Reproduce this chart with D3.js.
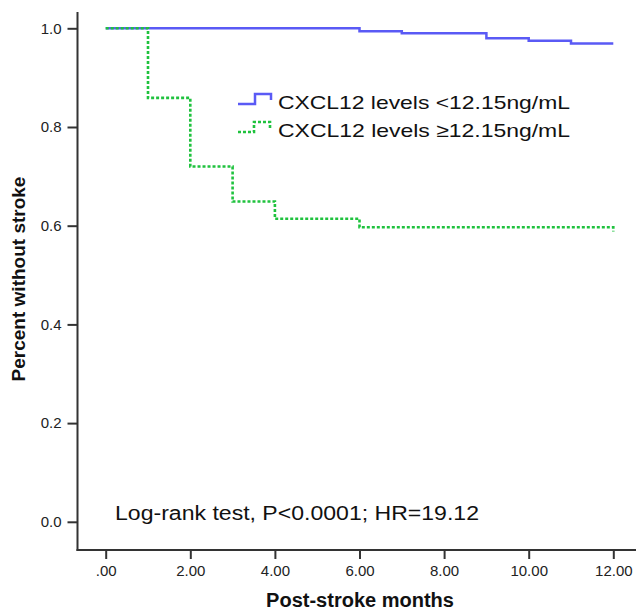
<!DOCTYPE html>
<html>
<head>
<meta charset="utf-8">
<script src="https://cdn.jsdelivr.net/npm/d3@7"></script>
<style>
  body { margin: 0; background: #fff; }
  text { font-family: Arial, "Liberation Sans", sans-serif; }
</style>
</head>
<body>
<svg width="636" height="611"></svg>
<script>
// survival steps, months vs proportion
var lowTimes = [0, 6, 7, 9, 10, 11, 12];
var lowSurv = [1.0, 0.994, 0.990, 0.980, 0.975, 0.969, 0.969];
var highTimes = [0, 1, 2, 3, 4, 6, 12, 12];
var highSurv = [1.0, 0.859, 0.720, 0.649, 0.614, 0.597, 0.597, 0.588];

var xTicks = [0, 2, 4, 6, 8, 10, 12];
var xTickLabels = [".00", "2.00", "4.00", "6.00", "8.00", "10.00", "12.00"];
var yTicks = [0, 0.2, 0.4, 0.6, 0.8, 1.0];

var legendLabels = ["CXCL12 levels <12.15ng/mL", "CXCL12 levels \u226512.15ng/mL"];

var svg = d3.select("svg");

var x = d3.scaleLinear().domain([0, 12]).range([105.7, 613.3]);
var y = d3.scaleLinear().domain([0, 1]).range([521.8, 28.3]);

var axisColor = "#333";

// axis lines
svg.append("line")
    .attr("x1", 77.5).attr("x2", 77.5)
    .attr("y1", 12).attr("y2", 551)
    .attr("stroke", axisColor).attr("stroke-width", 2);
svg.append("line")
    .attr("x1", 76.5).attr("x2", 636)
    .attr("y1", 550).attr("y2", 550)
    .attr("stroke", axisColor).attr("stroke-width", 2);

// y axis
var gy = svg.append("g")
    .attr("transform", "translate(77.5,0)")
    .call(d3.axisLeft(y).tickValues(yTicks).tickFormat(d3.format(".1f")).tickSize(10).tickPadding(6));
gy.select(".domain").remove();
gy.selectAll("line").attr("stroke", axisColor).attr("stroke-width", 2);
gy.selectAll("text").attr("font-size", 15).attr("fill", "#222");

// x axis
var gx = svg.append("g")
    .attr("transform", "translate(0,550)")
    .call(d3.axisBottom(x).tickValues(xTicks)
        .tickFormat(function(d, i) { return xTickLabels[i]; })
        .tickSize(9).tickPadding(6));
gx.select(".domain").remove();
gx.selectAll("line").attr("stroke", axisColor).attr("stroke-width", 2);
gx.selectAll("text").attr("font-size", 15).attr("fill", "#222");

// curves
var line = d3.line()
    .x(function(d) { return x(d[0]); })
    .y(function(d) { return y(d[1]); })
    .curve(d3.curveStepAfter);

var lowData = lowTimes.map(function(t, i) { return [t, lowSurv[i]]; });
var highData = highTimes.map(function(t, i) { return [t, highSurv[i]]; });

svg.append("path")
    .datum(lowData)
    .attr("d", line)
    .attr("fill", "none")
    .attr("stroke", "#5a5af5")
    .attr("stroke-width", 2.5);

svg.append("path")
    .datum(highData)
    .attr("d", line)
    .attr("fill", "none")
    .attr("stroke", "#1fc23e")
    .attr("stroke-width", 2.6)
    .attr("stroke-dasharray", "3,2");

// legend
svg.append("path")
    .attr("d", "M238,104H255V94H271V100")
    .attr("fill", "none")
    .attr("stroke", "#5a5af5")
    .attr("stroke-width", 2.5);
svg.append("path")
    .attr("d", "M238,132H254V122H270V128")
    .attr("fill", "none")
    .attr("stroke", "#1fc23e")
    .attr("stroke-width", 2.6)
    .attr("stroke-dasharray", "3,2");

svg.selectAll(".leg")
    .data(legendLabels)
    .enter()
    .append("text")
    .attr("class", "leg")
    .attr("x", 278)
    .attr("y", function(d, i) { return 109 + i * 28; })
    .attr("font-size", 19)
    .attr("fill", "#111")
    .attr("textLength", 292)
    .attr("lengthAdjust", "spacingAndGlyphs")
    .text(function(d) { return d; });

// annotation
svg.append("text")
    .attr("x", 115)
    .attr("y", 520)
    .attr("font-size", 20)
    .attr("fill", "#111")
    .attr("textLength", 364)
    .attr("lengthAdjust", "spacingAndGlyphs")
    .text("Log-rank test, P<0.0001; HR=19.12");

// axis titles
svg.append("text")
    .attr("x", 360)
    .attr("y", 607)
    .attr("text-anchor", "middle")
    .attr("font-size", 20)
    .attr("font-weight", "bold")
    .attr("fill", "#111")
    .text("Post-stroke months");

svg.append("text")
    .attr("transform", "translate(25,279) rotate(-90)")
    .attr("text-anchor", "middle")
    .attr("font-size", 19)
    .attr("font-weight", "bold")
    .attr("fill", "#111")
    .text("Percent without stroke");
</script>
</body>
</html>
